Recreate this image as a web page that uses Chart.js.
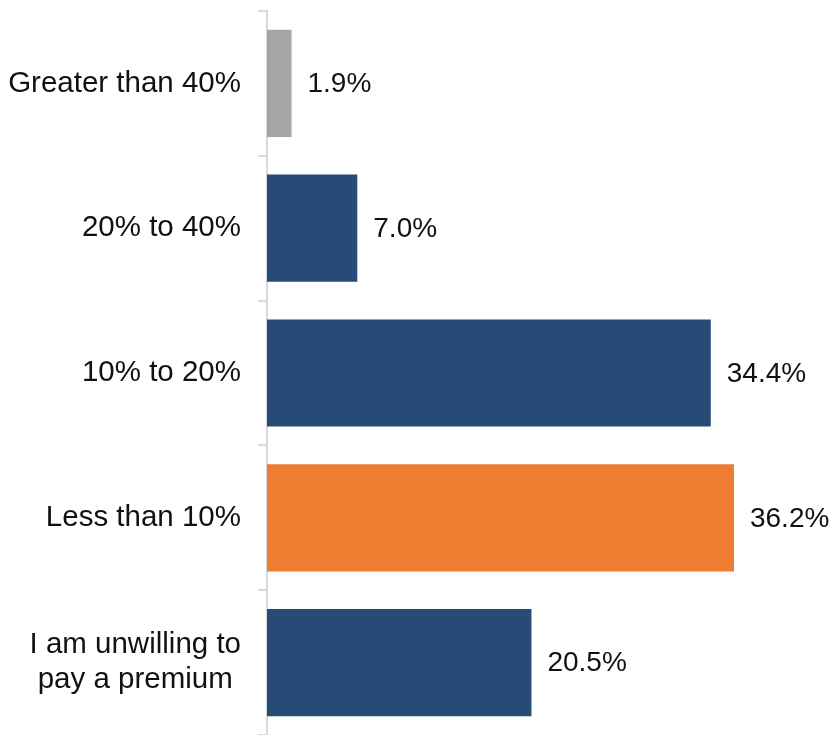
<!DOCTYPE html>
<html lang="en">

<head>
    <meta charset="UTF-8">
    <title>Premium willingness</title>
    <style>
        html, body { margin: 0; padding: 0; background: #fff; }
        .zone { position: relative; width: 832px; height: 735px; }
    </style>
</head>

<body>
    <div class="zone">
        <canvas id="myChart"></canvas>
    </div>

    <script src="https://cdn.jsdelivr.net/npm/chart.js"></script>
    <script>
        // answers, top to bottom
        const categories = ['Greater than 40%', '20% to 40%', '10% to 20%', 'Less than 10%', ['I am unwilling to', 'pay a premium ']];
        const shares = [1.9, 7.0, 34.4, 36.2, 20.5];
        const barColors = ['#a5a5a5', '#264b77', '#264b77', '#ed7d31', '#264b77'];

        const fontFamily = "'Liberation Sans', Arial, sans-serif";

        // write the value just past the end of each bar
        const valueLabels = {
            id: 'valueLabels',
            afterDatasetsDraw(chart) {
                const ctx = chart.ctx;
                const meta = chart.getDatasetMeta(0);
                ctx.save();
                ctx.font = `28px ${fontFamily}`;
                ctx.fillStyle = '#111';
                ctx.textAlign = 'left';
                ctx.textBaseline = 'middle';
                meta.data.forEach((bar, i) => {
                    ctx.fillText(shares[i].toFixed(1) + '%', bar.x + 16, bar.y + 1);
                });
                ctx.restore();
            }
        };

        new Chart(document.getElementById('myChart'), {
            type: 'bar',
            data: {
                labels: categories,
                datasets: [{
                    data: shares,
                    backgroundColor: barColors,
                    barPercentage: 0.74,
                    categoryPercentage: 1
                }]
            },
            options: {
                indexAxis: 'y',
                responsive: true,
                maintainAspectRatio: false,
                animation: false,
                layout: { padding: { top: 11, right: 49, bottom: -2, left: 0 } },
                plugins: {
                    legend: { display: false },
                    tooltip: { enabled: false }
                },
                scales: {
                    x: {
                        display: false,
                        min: 0,
                        max: 40
                    },
                    y: {
                        afterFit(scale) {
                            scale.width = 267;
                            scale.paddingTop = 0;
                            scale.paddingBottom = 0;
                        },
                        border: { color: '#d9d9d9', width: 2 },
                        grid: {
                            offset: true,
                            drawOnChartArea: false,
                            color: '#d9d9d9',
                            lineWidth: 2,
                            tickLength: 9
                        },
                        ticks: {
                            color: '#111',
                            padding: 17,
                            font: { family: fontFamily, size: 29.5, lineHeight: 1.2 }
                        }
                    }
                }
            },
            plugins: [valueLabels]
        });
    </script>
</body>

</html>
